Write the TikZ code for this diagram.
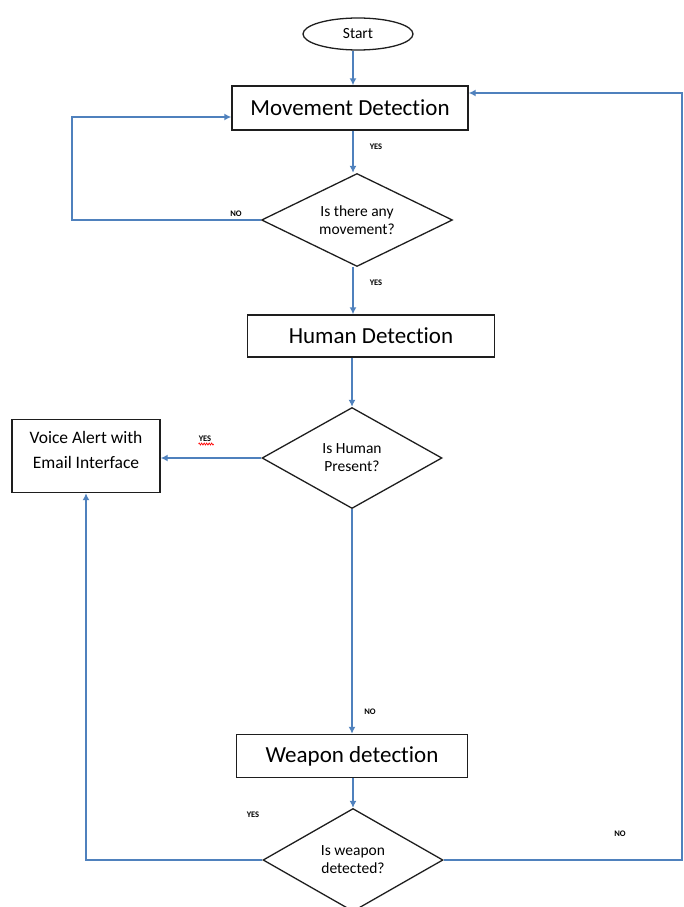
\documentclass[tikz,border=0pt]{standalone}
\usepackage{fontspec}
\setmainfont{Carlito}[Ligatures={NoCommon}]
\usetikzlibrary{shapes.geometric,arrows.meta,decorations.pathmorphing}
\definecolor{flowblue}{RGB}{79,129,189}
\definecolor{boxline}{RGB}{30,30,30}
\tikzset{
  procbox/.style={draw=boxline,line width=1.4pt,rectangle,inner sep=0pt,font=\fontsize{23}{26}\selectfont},
  decide/.style={draw=boxline,line width=1.3pt,diamond,inner sep=0pt,label={[align=center,font=\fontsize{15.5}{18}\selectfont,inner sep=0pt]center:#1}},
  flow/.style={draw=flowblue,line width=1.4pt},
  flowarr/.style={flow,-{Latex[length=7pt,width=7pt]}},
  tag/.style={font=\bfseries\fontsize{8.5}{9}\selectfont,inner sep=0pt}
}
\begin{document}
\begin{tikzpicture}[x=1pt,y=-1pt]
\useasboundingbox (0,0) rectangle (683,907);
\clip (0,0) rectangle (683,907);
% nodes
\node[draw=boxline,line width=1.3pt,ellipse,minimum width=110pt,minimum height=32pt,inner sep=0pt,font=\fontsize{15.5}{18}\selectfont] (start) at (358,34) {Start};
\node[procbox,minimum width=236pt,minimum height=44pt] (md) at (350,108) {Movement Detection};
\node[decide={Is there any\\movement?},minimum width=191pt,minimum height=93pt] (d1) at (357,220) {};
\node[procbox,minimum width=247pt,minimum height=42pt] (hd) at (371,336) {Human Detection};
\node[decide={Is Human\\Present?},minimum width=180pt,minimum height=101pt] (d2) at (352,458) {};
\node[draw=boxline,line width=1.4pt,rectangle,minimum width=148pt,minimum height=73pt,inner sep=0pt] (va) at (86,456) {};
\node[align=center,font=\fontsize{17.5}{25}\selectfont,inner sep=0pt] (vatext) at (86,450) {Voice Alert with\\Email Interface};
\node[procbox,minimum width=231pt,minimum height=43pt] (wd) at (352,756) {Weapon detection};
\node[decide={Is weapon\\detected?},minimum width=180pt,minimum height=103pt] (d3) at (353,860) {};
% coordinates
\coordinate (c0) at (353,0);
\coordinate (l1) at (72,117);
\coordinate (r1) at (682,93);
% connectors
\draw[flowarr] (c0 |- start.south) -- (c0 |- md.north);
\draw[flowarr] (c0 |- md.south) -- (c0 |- d1.north);
\draw[flowarr] (d1.west) -| (l1) -- (l1 -| md.west);
\draw[flowarr] (c0 |- d1.south) -- (c0 |- hd.north);
\draw[flowarr] (hd.south -| d2.north) -- (d2.north);
\draw[flowarr] (d2.west) -- (va.east |- d2.west);
\draw[flowarr] (d2.south) -- (d2.south |- wd.north);
\draw[flowarr] (wd.south -| d3.north) -- (d3.north);
\draw[flowarr] (d3.west) -| (va.south);
\draw[flowarr] (d3.east) -| (r1) -- (r1 -| md.east);
% labels
\node[tag] (y1) at (376,147) {YES};
\node[tag] (n1) at (236,214) {NO};
\node[tag] (y2) at (376,283) {YES};
\node[tag] (y3) at (205,439) {YES};
\coordinate (sq) at ([yshift=-2pt]y3.south west);
\draw[red,line width=0.7pt,decorate,decoration={zigzag,segment length=2.5pt,amplitude=1pt}] (sq) -- ++(15,0);
\node[tag] (n2) at (370,712) {NO};
\node[tag] (y4) at (253,815) {YES};
\node[tag] (n3) at (620,834) {NO};
\end{tikzpicture}
\end{document}
